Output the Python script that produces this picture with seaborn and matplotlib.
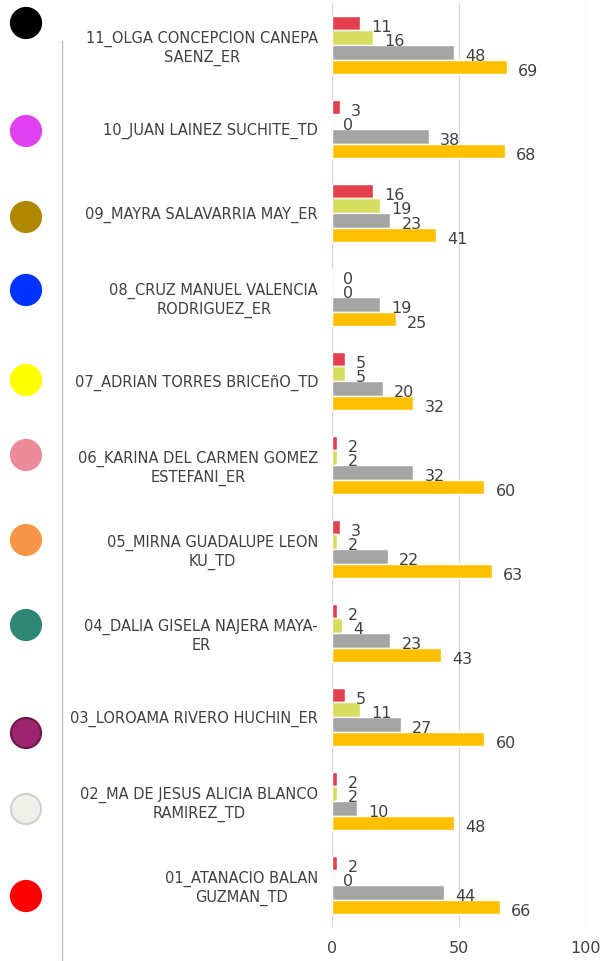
import numpy as np
import pandas as pd
import matplotlib
matplotlib.use("Agg")
import matplotlib.pyplot as plt
import seaborn as sns
from matplotlib.lines import Line2D

# %% Data (top to bottom as in the chart).
names = ["11_OLGA CONCEPCION CANEPA\nSAENZ_ER",
         "10_JUAN LAINEZ SUCHITE_TD",
         "09_MAYRA SALAVARRIA MAY_ER",
         "08_CRUZ MANUEL VALENCIA\nRODRIGUEZ_ER",
         "07_ADRIAN TORRES BRICEñO_TD",
         "06_KARINA DEL CARMEN GOMEZ\nESTEFANI_ER",
         "05_MIRNA GUADALUPE LEON\nKU_TD",
         "04_DALIA GISELA NAJERA MAYA-\nER",
         "03_LOROAMA RIVERO HUCHIN_ER",
         "02_MA DE JESUS ALICIA BLANCO\nRAMIREZ_TD",
         "01_ATANACIO BALAN\nGUZMAN_TD"]
serie_1 = [11, 3, 16, 0, 5, 2, 3, 2, 5, 2, 2]
serie_2 = [16, 0, 19, 0, 5, 2, 2, 4, 11, 2, 0]
serie_3 = [48, 38, 23, 19, 20, 32, 22, 23, 27, 10, 44]
serie_4 = [69, 68, 41, 25, 32, 60, 63, 43, 60, 48, 66]
series = ["Serie 1", "Serie 2", "Serie 3", "Serie 4"]
bar_colors = ["#E2404F", "#D5DE5F", "#A5A5A5", "#FFC000"]

dot_colors = ["#000000", "#E040F0", "#AF8800", "#0033FF", "#FFFF00", "#EC8C9A",
              "#F79646", "#2E8675", "#9E2470", "#F0F0EA", "#FF0000"]
dot_edges = ["#000000", "#E040F0", "#AF8800", "#0033FF", "#FFFF00", "#EC8C9A",
             "#F79646", "#2E8675", "#6B1848", "#D0D0CC", "#FF0000"]
dot_y = [23, 131, 217, 290, 380, 455, 540, 625, 733, 809, 896]

df = pd.DataFrame({"name": names * 4,
                   "serie": np.repeat(series, len(names)),
                   "value": serie_1 + serie_2 + serie_3 + serie_4})

# %% Draw.
sns.set_style("white")
plt.rcParams['font.family'] = ['DejaVu Sans']

W, H = 605, 961
fig = plt.figure(figsize=(W / 100, H / 100), dpi=100)
ax = fig.add_axes([332 / W, 1 - 927 / H, (586 - 332) / W, (927 - 3) / H])

sns.barplot(data=df, y="name", x="value", hue="serie", orient="h",
            palette=bar_colors, saturation=1, width=0.7, gap=0.02,
            legend=False, ax=ax)

for cont in ax.containers:
    for ann in ax.bar_label(cont, padding=8, fontsize=11.5, color="#404040"):
        ann.xyann = (8, -3)

ax.set_xlim(0, 100)
ax.set_xticks([0, 50, 100])
ax.xaxis.grid(True, color="#D9D9D9", linewidth=1)
ax.set_axisbelow(True)
ax.tick_params(axis="x", length=0, pad=10, labelsize=11.5, labelcolor="#404040")
ax.tick_params(axis="y", length=0, pad=10, labelsize=10.5, labelcolor="#404040")
for lab in ax.get_yticklabels():
    lab.set_multialignment("center")
ax.set_xlabel("")
ax.set_ylabel("")
for s in ax.spines.values():
    s.set_visible(False)

# left decorations
fig.add_artist(Line2D([62 / W, 62 / W], [0, 1 - 41 / H], color="#BFBFBF", linewidth=1))
ov = fig.add_axes([0, 0, 1, 1], zorder=-1)
ov.set_xlim(0, W)
ov.set_ylim(H, 0)
ov.axis("off")
ov.scatter([26] * len(dot_y), dot_y, s=470, c=dot_colors, edgecolors=dot_edges, linewidths=1.5)

fig.savefig("out.png", dpi=100)
